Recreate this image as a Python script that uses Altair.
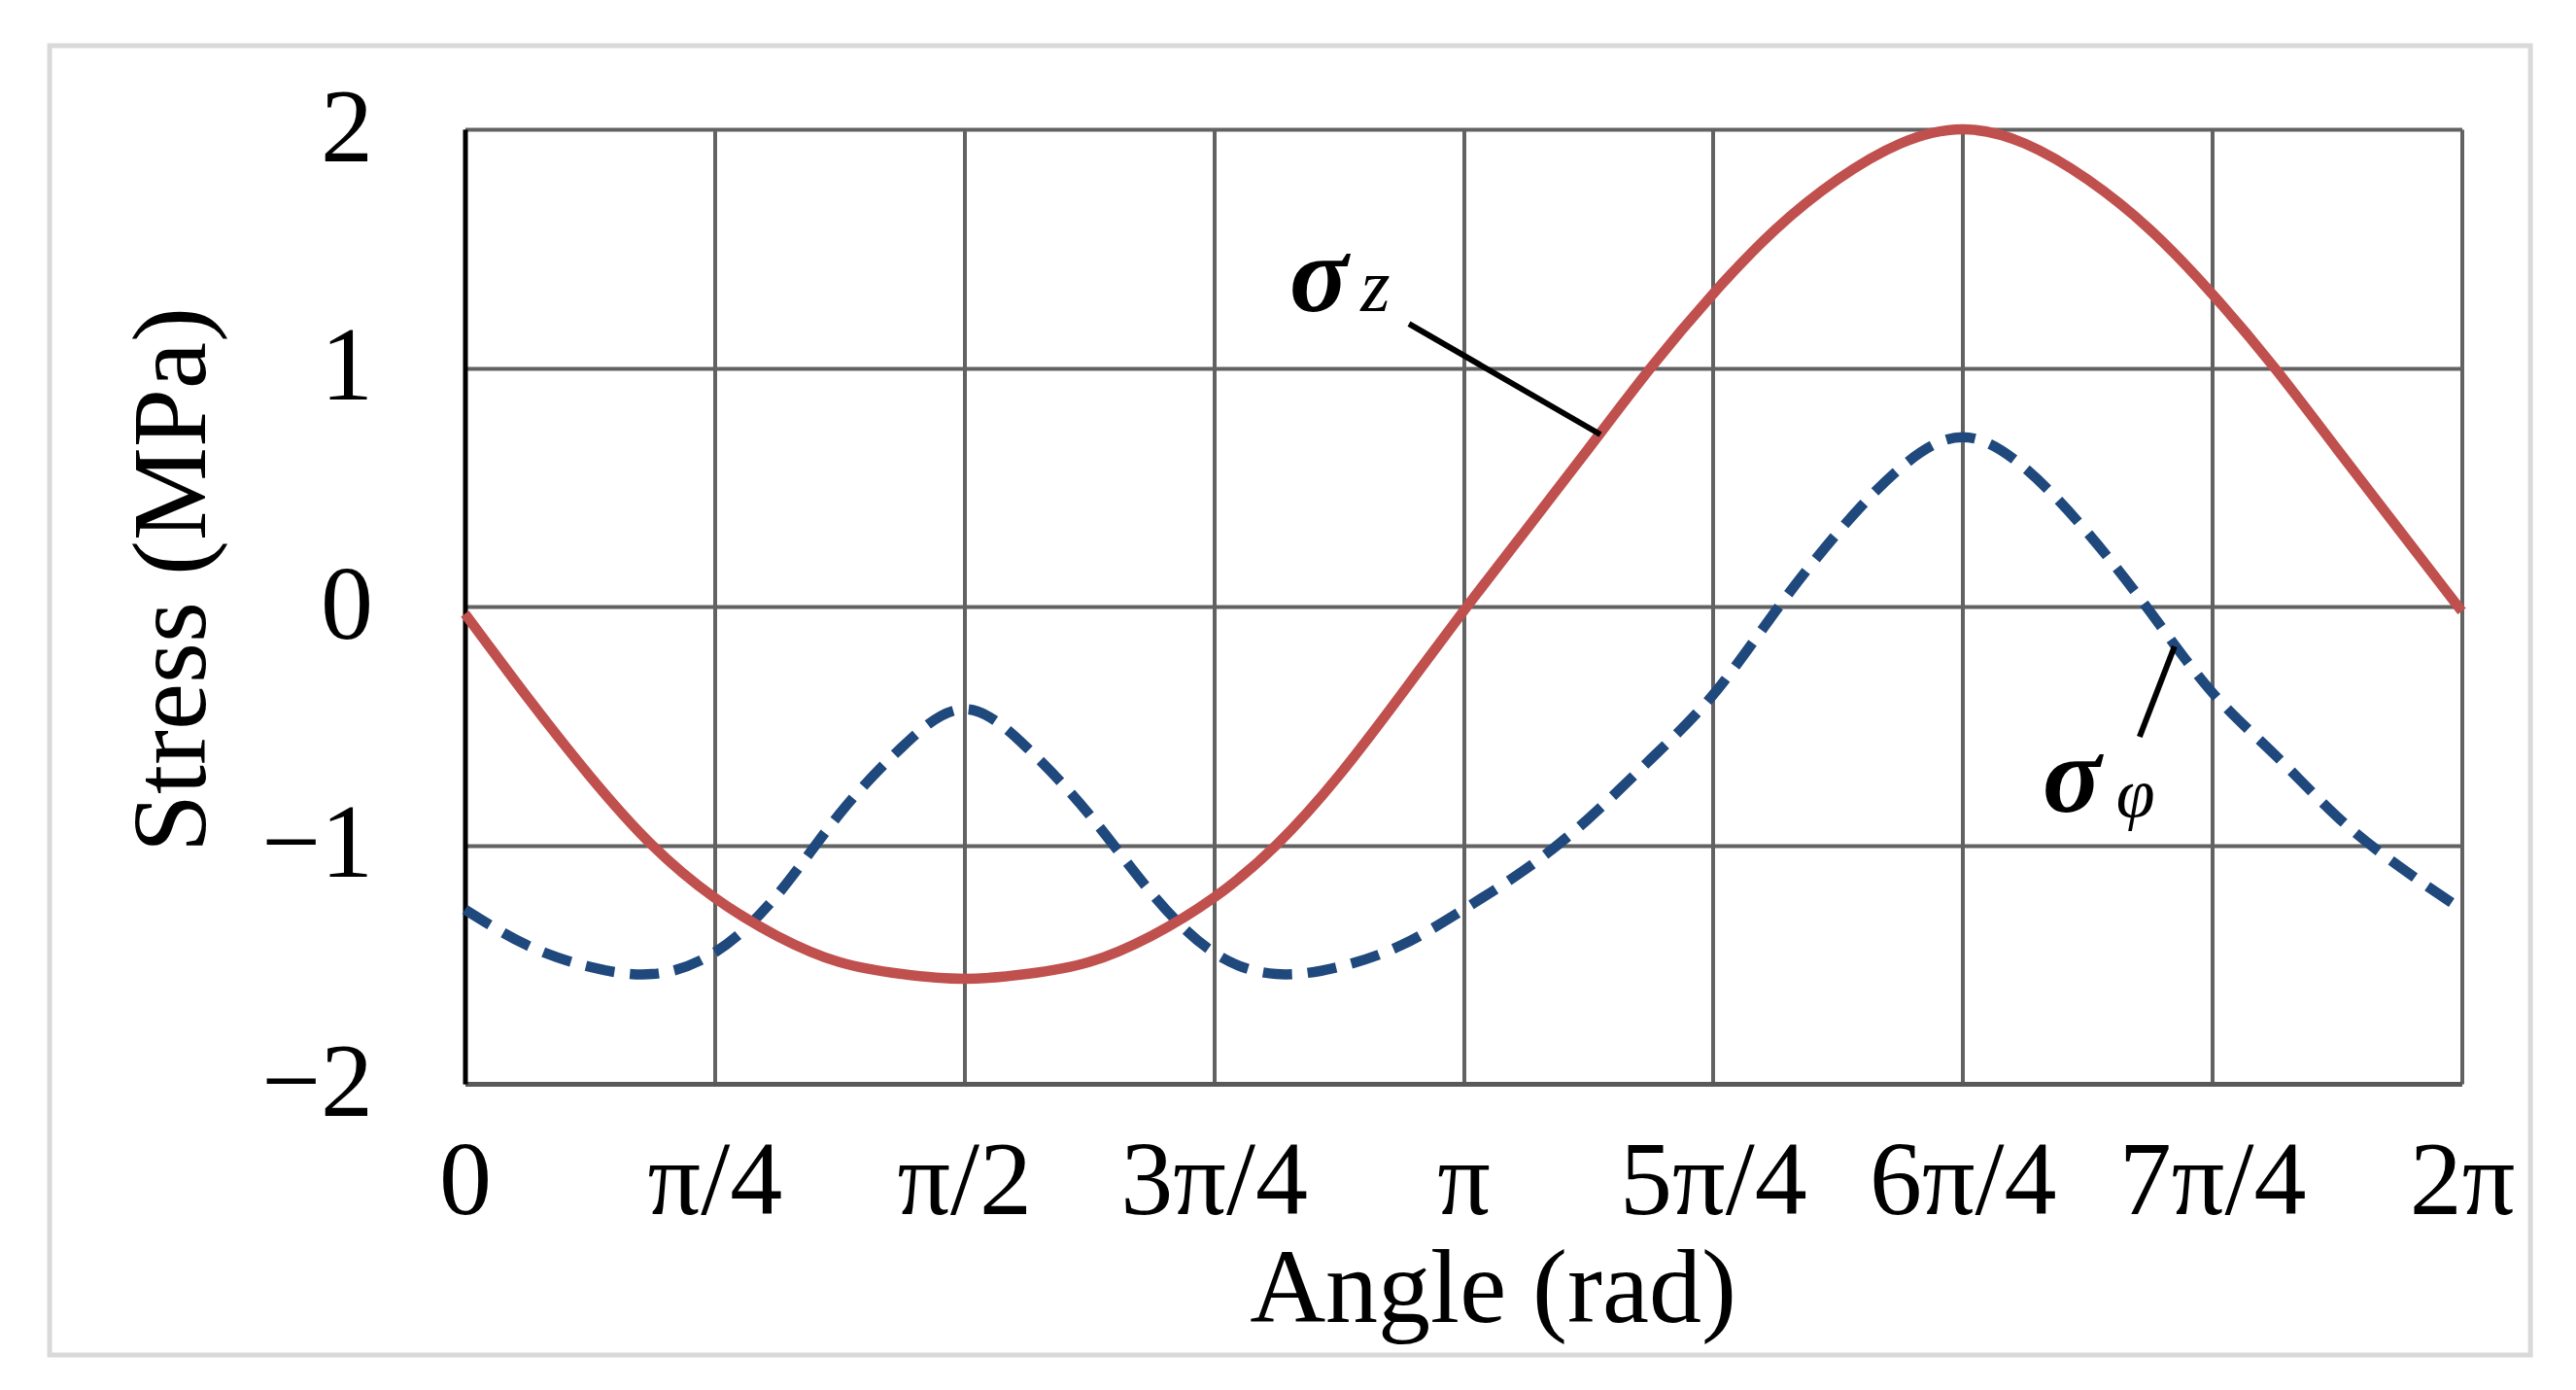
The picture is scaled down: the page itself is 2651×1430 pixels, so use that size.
import json
import pandas as pd
import altair as alt

# Angle positions in units of pi/4 (0 .. 8), read every pi/16
angle_q = [k / 4 for k in range(33)]

# sigma_z (MPa)
sigma_z = [-0.03, -0.38, -0.71, -1.00, -1.22, -1.38, -1.49, -1.54, -1.56,
           -1.54, -1.49, -1.38, -1.22, -1.00, -0.71, -0.37, -0.02,
           0.32, 0.66, 1.00, 1.31, 1.58, 1.79, 1.94, 2.00,
           1.94, 1.79, 1.58, 1.31, 1.00, 0.66, 0.32, -0.02]

# sigma_phi (MPa)
sigma_phi = [-1.27, -1.42, -1.51, -1.54, -1.45, -1.21, -0.87, -0.59, -0.43,
             -0.59, -0.87, -1.20, -1.45, -1.54, -1.51, -1.42, -1.27,
             -1.10, -0.89, -0.64, -0.37, -0.02, 0.31, 0.58, 0.71,
             0.58, 0.31, -0.02, -0.36, -0.62, -0.88, -1.09, -1.27]

x_tick_values = list(range(9))
x_tick_labels = ["0", "π/4", "π/2", "3π/4", "π", "5π/4", "6π/4", "7π/4", "2π"]
y_tick_values = [-2, -1, 0, 1, 2]

# annotation labels (data units)
sigma_text = ["σ", "σ"]
sigma_u = [3.303, 6.320]
sigma_v = [1.24, -0.86]

sub_text = ["z", "φ"]
sub_u = [3.588, 6.615]
sub_v = [1.24, -0.88]
sub_size = [78, 72]

# leader lines (data units)
leader_u = [3.782, 6.709]
leader_v = [1.185, -0.546]
leader_u2 = [4.549, 6.849]
leader_v2 = [0.721, -0.167]

# outer frame (data units, outside plot domain)
frame_u = [-1.664]
frame_u2 = [8.275]
frame_v = [2.350]
frame_v2 = [-3.136]

FONT = "Liberation Serif"

xscale = alt.Scale(domain=[0, 8], nice=False, zero=False)
yscale = alt.Scale(domain=[-2, 2], nice=False, zero=False)

label_expr = json.dumps(x_tick_labels, ensure_ascii=False) + "[round(datum.value)]"

xaxis = alt.Axis(
    values=x_tick_values, labelExpr=label_expr,
    labelFont=FONT, labelFontSize=108, labelColor="black", labelPadding=48,
    labelOverlap=False, labelFlush=False, labelLimit=0,
    ticks=False, tickSize=0,
    domainColor="#595959", domainWidth=5,
    grid=True, gridColor="#626262", gridWidth=4,
    title="Angle (rad)", titleFont=FONT, titleFontSize=108,
    titleFontWeight="normal", titleColor="black",
    titleX=1057.5, titleY=244, titleAlign="center", titleBaseline="alphabetic",
    titleLimit=0,
)
yaxis = alt.Axis(
    values=y_tick_values, format="d",
    labelFont=FONT, labelFontSize=108, labelColor="black", labelPadding=95,
    labelOverlap=False, labelFlush=False, labelBaseline="middle", labelLimit=0,
    ticks=False, tickSize=0,
    domainColor="black", domainWidth=5,
    grid=True, gridColor="#626262", gridWidth=4,
    title="Stress (MPa)", titleFont=FONT, titleFontSize=108,
    titleFontWeight="normal", titleColor="black", titleAngle=270,
    titleX=-268.5, titleY=463, titleAlign="center", titleBaseline="alphabetic",
    titleLimit=0,
)

X = alt.X("u:Q", scale=xscale, axis=xaxis, title="Angle (rad)")
Y = alt.Y("v:Q", scale=yscale, axis=yaxis, title="Stress (MPa)")

df_z = pd.DataFrame({"u": angle_q, "v": sigma_z})
df_phi = pd.DataFrame({"u": angle_q, "v": sigma_phi})
df_sig = pd.DataFrame({"u": sigma_u, "v": sigma_v, "t": sigma_text})
df_sub = pd.DataFrame({"u": sub_u, "v": sub_v, "t": sub_text, "s": sub_size})
df_lead = pd.DataFrame({"u": leader_u, "v": leader_v, "u2": leader_u2, "v2": leader_v2})
df_frame = pd.DataFrame({"u": frame_u, "v": frame_v, "u2": frame_u2, "v2": frame_v2})

frame = alt.Chart(df_frame).mark_rect(
    fill="transparent", stroke="#d9d9d9", strokeWidth=5
).encode(x=X, y=Y, x2="u2:Q", y2="v2:Q")

phi_line = alt.Chart(df_phi).mark_line(
    color="#1F497D", strokeWidth=10.5, strokeDash=[30, 16], strokeCap="butt",
    interpolate="natural"
).encode(x=X, y=Y)

z_line = alt.Chart(df_z).mark_line(
    color="#C0504D", strokeWidth=10.5, interpolate="natural"
).encode(x=X, y=Y)

leaders = alt.Chart(df_lead).mark_rule(color="black", strokeWidth=6).encode(
    x=X, y=Y, x2="u2:Q", y2="v2:Q"
)

sigmas = alt.Chart(df_sig).mark_text(
    font=FONT, fontStyle="italic", fontWeight="bold", fontSize=112,
    align="left", baseline="alphabetic", color="black"
).encode(x=X, y=Y, text="t:N")

subs = alt.Chart(df_sub).mark_text(
    font=FONT, fontStyle="italic", align="left", baseline="alphabetic", color="black"
).encode(x=X, y=Y, text="t:N", size=alt.Size("s:Q", scale=None))

chart = alt.layer(frame, phi_line, z_line, leaders, sigmas, subs).properties(
    width=2055, height=982,
    padding={"left": 470.5, "top": 125, "right": 100, "bottom": 300},
    autosize=alt.AutoSizeParams(type="none"),
    background="white",
).configure_view(stroke="transparent")

chart.save("out.html", embed_options={"renderer": "svg", "actions": False})
